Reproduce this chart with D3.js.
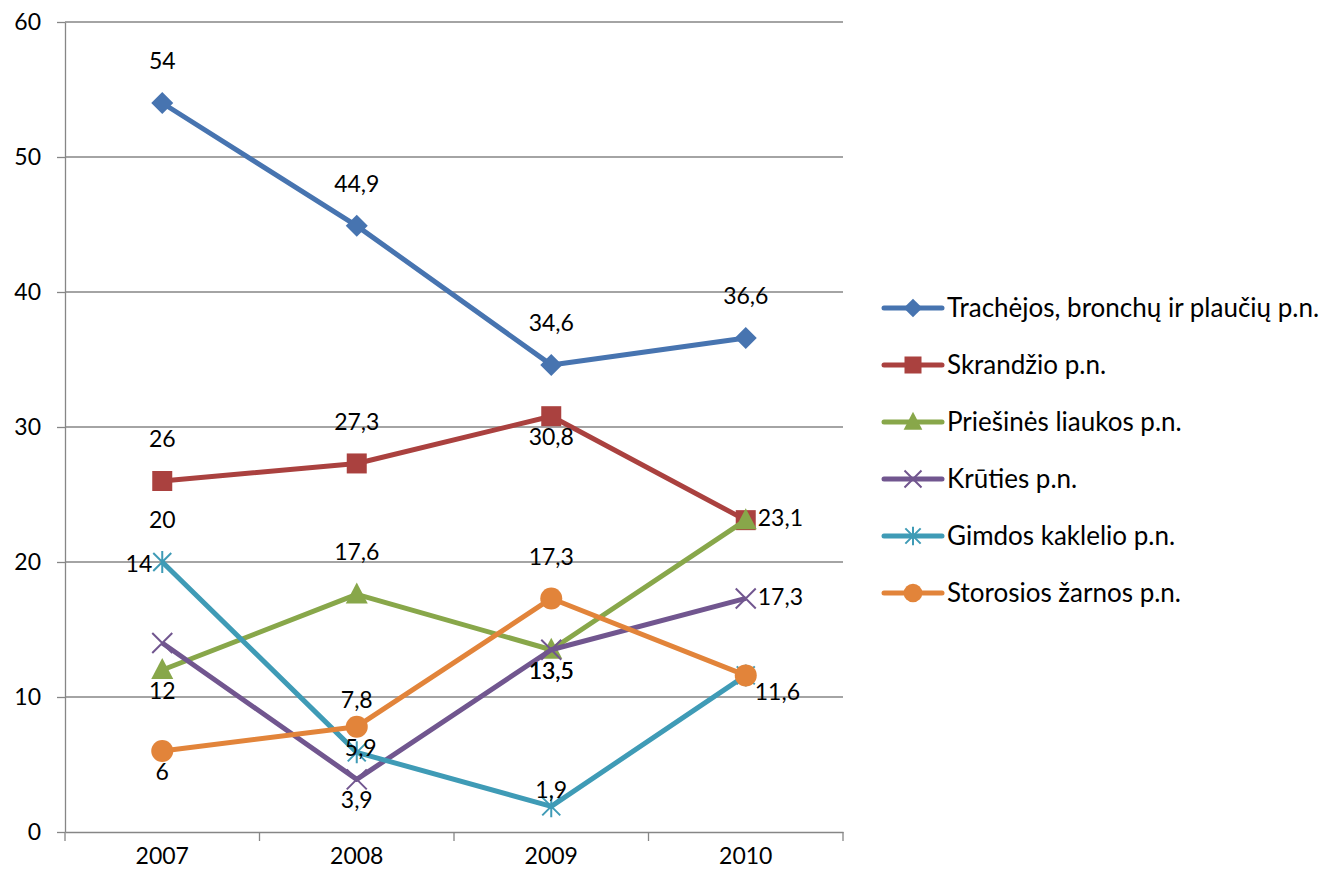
<!DOCTYPE html>
<html>
<head>
<meta charset="utf-8">
<script src="https://cdn.jsdelivr.net/npm/d3@7"></script>
<style>
  body { margin: 0; background: #fff; }
  svg text { font-family: Lato, "Open Sans", sans-serif; fill: #000; }
</style>
</head>
<body>
<svg id="main"></svg>
<script>
let years = ['2007', '2008', '2009', '2010']
let names = ['Trachėjos, bronchų ir plaučių p.n.', 'Skrandžio p.n.', 'Priešinės liaukos p.n.', 'Krūties p.n.', 'Gimdos kaklelio p.n.', 'Storosios žarnos p.n.']
let trachejos = [54, 44.9, 34.6, 36.6]
let skrandzio = [26, 27.3, 30.8, 23.1]
let priesines = [12, 17.6, 13.5, 23.1]
let kruties = [14, 3.9, 13.5, 17.3]
let gimdos = [20, 5.9, 1.9, 11.6]
let storosios = [6, 7.8, 17.3, 11.6]
let yTicks = [0, 10, 20, 30, 40, 50, 60]

// where each value label sits (a = above, b = below, r = right ...)
let labelPlace = [
    ['a', 'a', 'a', 'a'],
    ['a', 'a', 'b', 'r'],
    ['b', 'a', 'b', null],
    ['l', 'b', 'b', 'r'],
    ['a', 'c', 'a2', null],
    ['b', 'a3', 'a', 'rb']
]
let offsets = {
    a: [0, -42], a2: [0, -16], a3: [0, -27], b: [0, 21], c: [4, -4],
    r: [12, -2], rb: [9, 17], l: [-10, -79]
}

let colors = ['#4774b0', '#aa413f', '#88a74a', '#71568f', '#3f9bb6', '#e2843a']
let markers = ['diamond', 'square', 'triangle', 'x', 'star', 'circle']

let width = 1327
let height = 884
let padL = 65, padR = 843, padT = 22, padB = 832

let svg = d3.select('#main').attr('width', width).attr('height', height)

let series = [trachejos, skrandzio, priesines, kruties, gimdos, storosios]

let xScale = d3.scaleBand().domain(years).range([padL, padR])
let yScale = d3.scaleLinear().domain([0, 60]).range([padB, padT])
let cx = d => xScale(d) + xScale.bandwidth() / 2

// grid
svg.append('g')
    .selectAll('line')
    .data(yTicks.filter(t => t > 0))
    .enter()
    .append('line')
    .attr('x1', padL).attr('x2', padR)
    .attr('y1', d => yScale(d)).attr('y2', d => yScale(d))
    .attr('stroke', '#868686').attr('stroke-width', 1.3)

let yAxis = d3.axisLeft(yScale).tickValues(yTicks).tickSize(8).tickSizeOuter(0).tickPadding(16)
let gy = svg.append('g').attr('transform', `translate(${padL},0)`).call(yAxis)
gy.selectAll('line, path').attr('stroke', '#868686').attr('stroke-width', 1.3)
gy.selectAll('text').style('font-size', '23px')

let xAxis = d3.axisBottom(xScale).tickSize(0).tickPadding(16)
let gx = svg.append('g').attr('transform', `translate(0,${padB})`).call(xAxis)
gx.select('path').attr('stroke', '#868686').attr('stroke-width', 1.3)
gx.selectAll('text').style('font-size', '23px')
gx.selectAll('.bound')
    .data(d3.range(years.length + 1))
    .enter()
    .append('line')
    .attr('x1', i => padL + i * xScale.bandwidth())
    .attr('x2', i => padL + i * xScale.bandwidth())
    .attr('y1', 0).attr('y2', 9)
    .attr('stroke', '#868686').attr('stroke-width', 1.3)

const drawMarker = (g, type, color, s) => {
    if (type === 'diamond') {
        g.append('path').attr('d', `M0,${-11 * s}L${11 * s},0L0,${11 * s}L${-11 * s},0Z`).attr('fill', color)
    } else if (type === 'square') {
        g.append('rect').attr('x', -10 * s).attr('y', -10 * s).attr('width', 20 * s).attr('height', 20 * s).attr('fill', color)
    } else if (type === 'triangle') {
        g.append('path').attr('d', `M0,${-12 * s}L${11 * s},${9 * s}L${-11 * s},${9 * s}Z`).attr('fill', color)
    } else if (type === 'circle') {
        g.append('circle').attr('r', 11 * s).attr('fill', color)
    } else if (type === 'x') {
        g.append('path').attr('d', `M${-10 * s},${-10 * s}L${10 * s},${10 * s}M${10 * s},${-10 * s}L${-10 * s},${10 * s}`)
            .attr('stroke', color).attr('stroke-width', 2)
    } else if (type === 'star') {
        g.append('path').attr('d', `M0,${-11 * s}L0,${11 * s}M${-9 * s},${-9 * s}L${9 * s},${9 * s}M${9 * s},${-9 * s}L${-9 * s},${9 * s}`)
            .attr('stroke', color).attr('stroke-width', 2)
    }
}

let line = d3.line().x((d, i) => cx(years[i])).y(d => yScale(d))

series.forEach((vals, si) => {
    svg.append('path')
        .attr('d', line(vals))
        .attr('fill', 'none')
        .attr('stroke', colors[si])
        .attr('stroke-width', 5)
        .attr('stroke-linejoin', 'round')
    vals.forEach((v, i) => {
        let g = svg.append('g').attr('transform', `translate(${cx(years[i])},${yScale(v)})`)
        drawMarker(g, markers[si], colors[si], 1)
    })
})

series.forEach((vals, si) => {
    vals.forEach((v, i) => {
        let p = labelPlace[si][i]
        if (!p) return
        let o = offsets[p]
        let anchor = p === 'r' || p === 'rb' ? 'start' : (p === 'l' ? 'end' : 'middle')
        svg.append('text')
            .attr('x', cx(years[i]) + o[0])
            .attr('y', yScale(v) + o[1])
            .attr('dy', '0.35em')
            .attr('text-anchor', anchor)
            .style('font-size', '23px')
            .text(String(v).replace('.', ','))
    })
})

// legend
let legend = svg.append('g').attr('transform', 'translate(884,308)')
names.forEach((n, i) => {
    let g = legend.append('g').attr('transform', `translate(0,${i * 57})`)
    g.append('line').attr('x1', 0).attr('x2', 58).attr('y1', 0).attr('y2', 0)
        .attr('stroke', colors[i]).attr('stroke-width', 5).attr('stroke-linecap', 'round')
    let m = g.append('g').attr('transform', 'translate(29,0)')
    drawMarker(m, markers[i], colors[i], 0.85)
    g.append('text').attr('x', 63).attr('y', 0).attr('dy', '0.35em')
        .style('font-size', '26px').text(n)
})
</script>
</body>
</html>
